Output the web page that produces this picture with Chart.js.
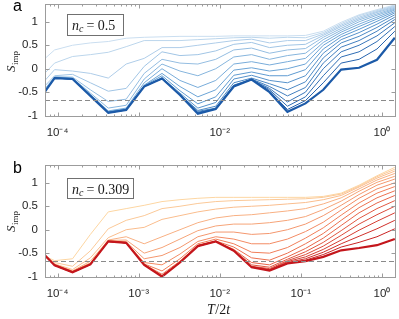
<!DOCTYPE html>
<html>
<head>
<meta charset="utf-8">
<script src="https://cdn.jsdelivr.net/npm/chart.js@4.4.1/dist/chart.umd.min.js"></script>
<style>
  html, body { margin: 0; padding: 0; background: #fff; }
  body { width: 399px; height: 319px; position: relative; overflow: hidden; }
  .panel { position: absolute; left: 0; width: 399px; }
  #boxA { top: 0; height: 150px; }
  #boxB { top: 160px; height: 159px; }
</style>
</head>
<body>
<div class="panel" id="boxA"><canvas id="chartA"></canvas></div>
<div class="panel" id="boxB"><canvas id="chartB"></canvas></div>
<script>
// temperatures T/2t shared by every curve
const tGrid = [5.52e-5, 9.19e-5, 1.53e-4, 2.54e-4, 4.22e-4, 7.02e-4, 1.17e-3, 1.94e-3,
  3.23e-3, 5.37e-3, 8.93e-3, 1.49e-2, 2.47e-2, 4.11e-2, 6.83e-2, 0.114, 0.189,
  0.314, 0.522, 0.868, 1.44];

// panel a, n_c = 0.5 (darkest first)
const a00 = [-0.74,-0.20,-0.22,-0.58,-0.94,-0.88,-0.38,-0.21,-0.56,-0.96,-0.86,-0.38,-0.23,-0.50,-0.92,-0.74,-0.45,-0.02,0.02,0.19,0.66];
const a01 = [-0.74,-0.20,-0.22,-0.58,-0.94,-0.88,-0.38,-0.21,-0.56,-0.95,-0.86,-0.38,-0.23,-0.48,-0.87,-0.68,-0.30,0.12,0.20,0.42,0.80];
const a02 = [-0.74,-0.20,-0.22,-0.58,-0.94,-0.88,-0.38,-0.21,-0.56,-0.94,-0.86,-0.37,-0.23,-0.45,-0.80,-0.60,-0.15,0.25,0.36,0.58,0.90];
const a03 = [-0.74,-0.20,-0.22,-0.58,-0.93,-0.88,-0.38,-0.21,-0.55,-0.93,-0.85,-0.36,-0.23,-0.42,-0.71,-0.50,0.00,0.36,0.50,0.70,0.98];
const a04 = [-0.73,-0.20,-0.22,-0.58,-0.93,-0.87,-0.37,-0.21,-0.55,-0.91,-0.84,-0.35,-0.22,-0.38,-0.58,-0.40,0.12,0.46,0.60,0.80,1.05];
const a05 = [-0.73,-0.20,-0.21,-0.57,-0.93,-0.87,-0.37,-0.21,-0.55,-0.89,-0.80,-0.30,-0.20,-0.32,-0.45,-0.28,0.23,0.55,0.69,0.88,1.10];
const a06 = [-0.73,-0.19,-0.21,-0.57,-0.92,-0.87,-0.37,-0.19,-0.52,-0.84,-0.72,-0.22,-0.14,-0.25,-0.30,-0.15,0.33,0.62,0.77,0.95,1.15];
const a07 = [-0.72,-0.19,-0.21,-0.57,-0.92,-0.86,-0.36,-0.15,-0.47,-0.75,-0.60,-0.14,-0.07,-0.15,-0.15,-0.02,0.42,0.68,0.84,1.01,1.19];
const a08 = [-0.72,-0.19,-0.21,-0.56,-0.92,-0.86,-0.35,-0.10,-0.38,-0.60,-0.45,-0.03,0.02,-0.05,0.00,0.10,0.50,0.73,0.90,1.06,1.22];
const a09 = [-0.71,-0.19,-0.20,-0.55,-0.90,-0.84,-0.30,0.00,-0.25,-0.40,-0.25,0.10,0.15,0.08,0.15,0.22,0.56,0.78,0.95,1.10,1.25];
const a10 = [-0.69,-0.18,-0.20,-0.52,-0.84,-0.78,-0.22,0.10,-0.05,-0.15,0.00,0.25,0.30,0.20,0.28,0.33,0.62,0.82,1.00,1.14,1.27];
const a11 = [-0.65,-0.17,-0.18,-0.45,-0.70,-0.65,-0.10,0.20,0.12,0.10,0.20,0.40,0.44,0.33,0.40,0.43,0.67,0.86,1.04,1.17,1.29];
const a12 = [-0.55,-0.15,-0.12,-0.30,-0.48,-0.42,0.05,0.36,0.28,0.30,0.38,0.52,0.56,0.45,0.50,0.52,0.71,0.90,1.07,1.20,1.31];
const a13 = [-0.45,-0.02,-0.05,-0.10,-0.20,0.10,0.22,0.45,0.45,0.50,0.55,0.60,0.63,0.55,0.60,0.60,0.74,0.93,1.10,1.22,1.33];
const a14 = [-0.28,0.12,0.26,0.30,0.35,0.47,0.60,0.60,0.60,0.62,0.64,0.66,0.67,0.65,0.67,0.66,0.77,0.96,1.13,1.24,1.345];
const a15 = [0.06,0.40,0.50,0.55,0.58,0.65,0.67,0.68,0.69,0.69,0.69,0.70,0.70,0.70,0.70,0.71,0.80,0.99,1.15,1.26,1.36];

// panel b, n_c = 0.309 (darkest first)
const b00 = [-0.36,-0.76,-0.91,-0.74,-0.25,-0.28,-0.75,-1.00,-0.70,-0.35,-0.25,-0.45,-0.80,-0.87,-0.72,-0.67,-0.58,-0.44,-0.39,-0.33,-0.20];
const b01 = [-0.37,-0.76,-0.91,-0.74,-0.25,-0.28,-0.75,-1.00,-0.70,-0.35,-0.25,-0.45,-0.80,-0.86,-0.71,-0.65,-0.53,-0.37,-0.27,-0.15,0.02];
const b02 = [-0.37,-0.76,-0.91,-0.74,-0.25,-0.28,-0.75,-1.00,-0.70,-0.35,-0.25,-0.45,-0.79,-0.86,-0.70,-0.62,-0.48,-0.30,-0.14,0.02,0.20];
const b03 = [-0.38,-0.76,-0.91,-0.74,-0.25,-0.28,-0.75,-0.99,-0.70,-0.35,-0.25,-0.44,-0.79,-0.85,-0.68,-0.58,-0.42,-0.22,-0.01,0.18,0.36];
const b04 = [-0.38,-0.76,-0.90,-0.74,-0.25,-0.28,-0.74,-0.99,-0.70,-0.34,-0.25,-0.44,-0.78,-0.83,-0.66,-0.53,-0.35,-0.12,0.12,0.32,0.50];
const b05 = [-0.38,-0.75,-0.90,-0.73,-0.25,-0.28,-0.74,-0.98,-0.70,-0.34,-0.25,-0.43,-0.75,-0.80,-0.63,-0.47,-0.27,-0.02,0.24,0.45,0.62];
const b06 = [-0.39,-0.75,-0.90,-0.73,-0.25,-0.28,-0.74,-0.98,-0.69,-0.34,-0.25,-0.42,-0.70,-0.75,-0.58,-0.40,-0.18,0.09,0.36,0.57,0.73];
const b07 = [-0.39,-0.75,-0.90,-0.73,-0.25,-0.27,-0.74,-0.95,-0.67,-0.33,-0.24,-0.37,-0.60,-0.65,-0.50,-0.30,-0.08,0.20,0.47,0.68,0.83];
const b08 = [-0.40,-0.75,-0.89,-0.73,-0.24,-0.27,-0.73,-0.88,-0.62,-0.30,-0.20,-0.30,-0.48,-0.50,-0.38,-0.18,0.04,0.31,0.57,0.78,0.92];
const b09 = [-0.40,-0.75,-0.89,-0.72,-0.24,-0.27,-0.70,-0.75,-0.52,-0.25,-0.15,-0.20,-0.30,-0.30,-0.20,-0.04,0.16,0.42,0.67,0.87,1.00];
const b10 = [-0.41,-0.74,-0.89,-0.72,-0.24,-0.26,-0.62,-0.55,-0.38,-0.15,-0.05,-0.05,-0.10,-0.08,0.00,0.12,0.30,0.52,0.75,0.95,1.08];
const b11 = [-0.41,-0.74,-0.88,-0.71,-0.23,-0.22,-0.50,-0.38,-0.20,-0.02,0.08,0.12,0.12,0.15,0.20,0.28,0.43,0.61,0.82,1.01,1.14];
const b12 = [-0.42,-0.74,-0.88,-0.67,-0.22,-0.15,-0.30,-0.15,0.00,0.15,0.25,0.30,0.32,0.36,0.40,0.45,0.55,0.68,0.87,1.06,1.20];
const b13 = [-0.43,-0.73,-0.85,-0.60,-0.17,0.00,0.05,0.22,0.30,0.38,0.44,0.48,0.50,0.52,0.55,0.58,0.64,0.73,0.91,1.10,1.25];
const b14 = [-0.45,-0.70,-0.78,-0.45,0.02,0.20,0.30,0.45,0.50,0.56,0.60,0.62,0.63,0.64,0.65,0.66,0.69,0.76,0.93,1.13,1.29];
const b15 = [-0.48,-0.66,-0.62,-0.10,0.38,0.45,0.52,0.60,0.64,0.67,0.69,0.69,0.69,0.69,0.69,0.69,0.71,0.78,0.95,1.15,1.33];

const yTicks = [-1, -0.5, 0, 0.5, 1];
const dashLevel = -0.665;
const xLabelsA = [-4, -2, 0];
const xLabelsB = [-4, -3, -2, -1, 0];

const linesA = [a00, a01, a02, a03, a04, a05, a06, a07, a08, a09, a10, a11, a12, a13, a14, a15];
const linesB = [b00, b01, b02, b03, b04, b05, b06, b07, b08, b09, b10, b11, b12, b13, b14, b15];

const supDigits = { '-': '\u207B', '0': '\u2070', '1': '\u00B9', '2': '\u00B2', '3': '\u00B3', '4': '\u2074' };
function powLabel(e) {
  return '10' + String(e).split('').map(c => supDigits[c]).join('');
}

// dark -> light colour ramp
function ramp(stops, n) {
  const out = [];
  for (let i = 0; i < n; i++) {
    const t = i / (n - 1) * (stops.length - 1);
    const j = Math.min(Math.floor(t), stops.length - 2);
    const f = t - j;
    const c = stops[j].map((v, k) => Math.round(v + (stops[j + 1][k] - v) * f));
    out.push(`rgb(${c.join(',')})`);
  }
  return out;
}
const bluesA = ramp([[28, 90, 168], [100, 160, 212], [202, 222, 240]], 16);
const redsB = ramp([[196, 22, 28], [240, 120, 84], [253, 214, 162]], 16);

function isPow10(v) {
  const e = Math.log10(v);
  return Math.abs(e - Math.round(e)) < 1e-6;
}

// axes box, inward ticks, dashed level and the texts
const decor = {
  id: 'decor',
  afterDatasetsDraw(chart, args, o) {
    const { ctx, chartArea: a, scales: { x, y } } = chart;
    ctx.save();
    ctx.beginPath();
    ctx.rect(a.left, a.top, a.right - a.left, a.bottom - a.top);
    ctx.clip();
    const yd = Math.round(y.getPixelForValue(dashLevel)) + 0.5;
    ctx.strokeStyle = '#8a8a8a';
    ctx.lineWidth = 1.2;
    ctx.setLineDash([5, 3]);
    ctx.beginPath();
    ctx.moveTo(a.left, yd);
    ctx.lineTo(a.right, yd);
    ctx.stroke();
    ctx.restore();

    ctx.save();
    const L = Math.round(a.left) + 0.5, R = Math.round(a.right) - 0.5;
    const Tp = Math.round(a.top) + 0.5, B = Math.round(a.bottom) - 0.5;
    ctx.strokeStyle = '#9c9c9c';
    ctx.lineWidth = 1;
    ctx.strokeRect(L, Tp, R - L, B - Tp);
    ctx.beginPath();
    x.ticks.forEach(t => {
      const px = Math.round(x.getPixelForValue(t.value)) + 0.5;
      if (px < L || px > R) return;
      const len = isPow10(t.value) ? 4 : 2;
      ctx.moveTo(px, B); ctx.lineTo(px, B - len);
      ctx.moveTo(px, Tp); ctx.lineTo(px, Tp + len);
    });
    yTicks.forEach(v => {
      const py = Math.round(y.getPixelForValue(v)) + 0.5;
      ctx.moveTo(L, py); ctx.lineTo(L + 4, py);
      ctx.moveTo(R, py); ctx.lineTo(R - 4, py);
    });
    ctx.stroke();

    // n_c box
    const bx = o.box;
    ctx.fillStyle = '#fff';
    ctx.fillRect(bx[0], bx[1], bx[2], bx[3]);
    ctx.strokeStyle = '#707070';
    ctx.strokeRect(bx[0] + 0.5, bx[1] + 0.5, bx[2], bx[3]);
    ctx.fillStyle = '#1a1a1a';
    ctx.textBaseline = 'alphabetic';
    ctx.textAlign = 'left';
    let tx = bx[0] + 5, ty = bx[1] + 15.5;
    ctx.font = 'italic 14px "Liberation Serif"';
    ctx.fillText('n', tx, ty);
    tx += ctx.measureText('n').width;
    ctx.font = 'italic 10px "Liberation Serif"';
    ctx.fillText('c', tx, ty + 2.5);
    tx += ctx.measureText('c').width + 3;
    ctx.font = '14px "Liberation Serif"';
    ctx.fillText('= ' + o.nc, tx, ty);
    ctx.restore();
  },
  afterDraw(chart, args, o) {
    const { ctx } = chart;
    ctx.save();
    ctx.fillStyle = '#000';
    ctx.textBaseline = 'alphabetic';
    ctx.textAlign = 'left';
    ctx.font = '16px "Liberation Sans"';
    ctx.fillText(o.tag, 13, o.tagY);

    // rotated S_imp
    ctx.save();
    ctx.translate(15, o.labelY + 12);
    ctx.rotate(-Math.PI / 2);
    ctx.fillStyle = '#1a1a1a';
    ctx.font = 'italic 13px "Liberation Serif"';
    ctx.fillText('S', 0, 0);
    const w = ctx.measureText('S').width;
    ctx.font = '9px "Liberation Serif"';
    ctx.fillText('imp', w + 0.5, 3);
    ctx.restore();

    if (o.xTitle) {
      ctx.fillStyle = '#1a1a1a';
      let tx = 207, ty = 154;
      ctx.font = 'italic 14px "Liberation Serif"';
      ctx.fillText('T', tx, ty);
      tx += ctx.measureText('T').width + 0.5;
      ctx.font = '14px "Liberation Serif"';
      ctx.fillText('/2', tx, ty);
      tx += ctx.measureText('/2').width;
      ctx.font = 'italic 14px "Liberation Serif"';
      ctx.fillText('t', tx, ty);
    }
    ctx.restore();
  }
};

function makeChart(id, lines, colours, labelled, xHeight, padTop, extra) {
  const datasets = lines.map((vals, i) => ({
    data: vals.map((v, k) => ({ x: tGrid[k], y: v })),
    borderColor: colours[i],
    borderWidth: i === 0 ? 2.2 : 1,
    pointRadius: 0,
    tension: 0,
    fill: false,
    clip: 0
  }));
  return new Chart(document.getElementById(id), {
    type: 'line',
    data: { datasets },
    options: {
      responsive: true,
      maintainAspectRatio: false,
      animation: false,
      devicePixelRatio: 1,
      layout: { padding: { top: padTop, right: 3, left: 0, bottom: 0 } },
      plugins: { legend: { display: false }, tooltip: { enabled: false }, decor: extra },
      scales: {
        x: {
          type: 'logarithmic',
          min: 7.33e-5,
          max: 1.49,
          grid: { display: false, drawTicks: false },
          border: { display: false },
          afterFit: s => {
            s.height = xHeight;
            s.paddingLeft = 0; s.paddingRight = 0;
          },
          afterBuildTicks: s => {
            const ticks = [];
            for (let e = -5; e <= 0; e++) {
              for (let m = 1; m <= 9; m++) {
                const v = m * Math.pow(10, e);
                if (v >= s.min && v <= s.max) ticks.push({ value: v });
              }
            }
            s.ticks = ticks;
          },
          ticks: {
            autoSkip: false,
            maxRotation: 0,
            padding: 9,
            color: '#262626',
            font: { family: 'Liberation Sans', size: 11.5 },
            callback: v => {
              if (!isPow10(v)) return '';
              const e = Math.round(Math.log10(v));
              return labelled.includes(e) ? powLabel(e) : '';
            }
          }
        },
        y: {
          min: -1.03,
          max: 1.38,
          grid: { display: false, drawTicks: false },
          border: { display: false },
          afterFit: s => {
            s.width = 45;
            s.paddingTop = 0; s.paddingBottom = 0;
          },
          afterBuildTicks: s => { s.ticks = yTicks.map(v => ({ value: v })); },
          ticks: {
            padding: 7,
            color: '#262626',
            font: { family: 'Liberation Sans', size: 11.5 },
            callback: v => String(v)
          }
        }
      }
    },
    plugins: [decor]
  });
}

makeChart('chartA', linesA, bluesA, xLabelsA, 33, 4,
  { tag: 'a', tagY: 11, labelY: 60, box: [67, 14, 56, 21], nc: '0.5', xTitle: false });
makeChart('chartB', linesB, redsB, xLabelsB, 41, 5,
  { tag: 'b', tagY: 13, labelY: 60, box: [67, 18, 66, 20], nc: '0.309', xTitle: true });
</script>
</body>
</html>
